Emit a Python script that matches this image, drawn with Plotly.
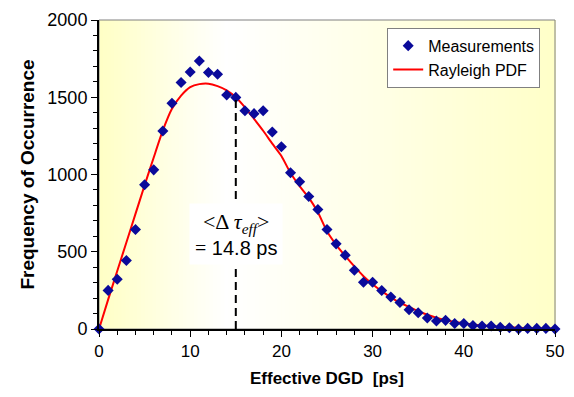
import plotly.graph_objects as go

# ---- data ----
dgd_ps = list(range(0, 51))
measurements = [0, 250, 322, 443, 644, 934, 1030, 1281, 1461, 1595,
                1664, 1735, 1660, 1649, 1515, 1499, 1413, 1394, 1413, 1275,
                1179, 1011, 953, 857, 773, 644, 551, 478, 380, 303,
                303, 249, 207, 171, 125, 105, 71, 52, 56, 36,
                36, 23, 19, 19, 11, 8, 0, 4, 4, 4, 0]
rayleigh_pdf = [0, 190, 375, 560, 745, 930, 1110, 1285, 1425, 1510,
                1565, 1585, 1588, 1572, 1545, 1500, 1435, 1360, 1283, 1200,
                1120, 1010, 925, 850, 755, 632, 545, 473, 405, 342,
                290, 245, 205, 170, 143, 115, 92, 73, 58, 46,
                37, 29, 23, 18, 14, 11, 8, 6, 5, 4, 3]
mean_dgd = 14.8
mean_marker_x = 15
mean_marker_top = 1500
x_ticks = [0, 10, 20, 30, 40, 50]
y_ticks = [0, 500, 1000, 1500, 2000]

FONT = "Liberation Sans, Arial, sans-serif"
SERIF = "Liberation Serif, Times New Roman, serif"

fig = go.Figure()

fig.add_trace(go.Scatter(
    x=dgd_ps, y=rayleigh_pdf, mode="lines", name="Rayleigh PDF",
    line=dict(color="#FF0000", width=2, shape="spline", smoothing=0.6),
    legendrank=2, cliponaxis=False,
))
fig.add_trace(go.Scatter(
    x=dgd_ps, y=measurements, mode="markers", name="Measurements",
    marker=dict(symbol="diamond", size=8.5, color="#0A0A9A",
                line=dict(width=0)),
    legendrank=1, cliponaxis=False,
))

# background gradient (yellow -> white -> pale yellow)
shapes = []
n = 120
for i in range(n):
    t = (i + 0.5) / n
    tw = 0.28
    if t < tw:
        k = (tw - t) / tw
        b = 255 - 58 * k
    else:
        k = (t - tw) / (1 - tw)
        b = 255 - 55 * k
    shapes.append(dict(type="rect", xref="paper", yref="paper",
                       x0=i / n, x1=(i + 1) / n + 0.002, y0=0, y1=1,
                       fillcolor=f"rgb(255,255,{int(round(b))})",
                       line=dict(width=0), layer="below"))
# gray frame
shapes.append(dict(type="rect", xref="paper", yref="paper", x0=0, x1=1, y0=0, y1=1,
                   line=dict(color="#808080", width=1), fillcolor="rgba(0,0,0,0)",
                   layer="below"))
# dashed mean marker
shapes.append(dict(type="line", xref="x", yref="y",
                   x0=mean_marker_x, x1=mean_marker_x, y0=0, y1=mean_marker_top,
                   line=dict(color="black", width=2, dash="8px,5px"), layer="above"))

fig.update_layout(
    width=574, height=397,
    margin=dict(l=99, r=16, t=10, b=68),
    paper_bgcolor="white", plot_bgcolor="rgba(0,0,0,0)",
    font=dict(family=FONT, color="black", size=17),
    shapes=shapes,
    showlegend=True,
    legend=dict(x=0.632, y=0.975, xanchor="left", yanchor="top",
                bgcolor="white", bordercolor="#808080", borderwidth=1,
                font=dict(size=16, family=FONT), itemwidth=30,
                tracegroupgap=0),
    annotations=[dict(
        x=mean_marker_x, y=615, xref="x", yref="y", showarrow=False,
        text=(f"<span style='font-family:{SERIF};font-size:22px'>&lt;Δ <i>τ</i><sub><i>eff</i></sub>&gt;</span><br>"
              f"<span style='font-family:{SERIF}'>=</span> {mean_dgd} ps"),
        font=dict(size=20, family=FONT, color="black"),
        bgcolor="white", borderpad=5, align="center",
    )],
)

fig.update_xaxes(
    range=[0, 50], tickvals=x_ticks, ticks="outside", ticklen=6, tickwidth=1,
    tickcolor="black", showline=True, linecolor="black", linewidth=2,
    showgrid=False, zeroline=False,
    minor=dict(dtick=2, ticks="outside", ticklen=4, tickcolor="black", showgrid=False),
    tickfont=dict(size=17, family=FONT),
    title=dict(text="Effective DGD\u00a0\u00a0[ps]", font=dict(size=17, family=FONT, weight="bold"),
               standoff=12),
)
fig.update_yaxes(
    range=[0, 2000], tickvals=y_ticks, ticks="outside", ticklen=6, tickwidth=1,
    tickcolor="black", showline=True, linecolor="black", linewidth=2,
    showgrid=False, zeroline=False,
    minor=dict(dtick=100, ticks="outside", ticklen=4, tickcolor="black", showgrid=False),
    tickfont=dict(size=18, family=FONT),
    title=dict(text="Frequency of Occurrence", font=dict(size=19, family=FONT, weight="bold"),
               standoff=8),
)

fig.write_html("out.html")
